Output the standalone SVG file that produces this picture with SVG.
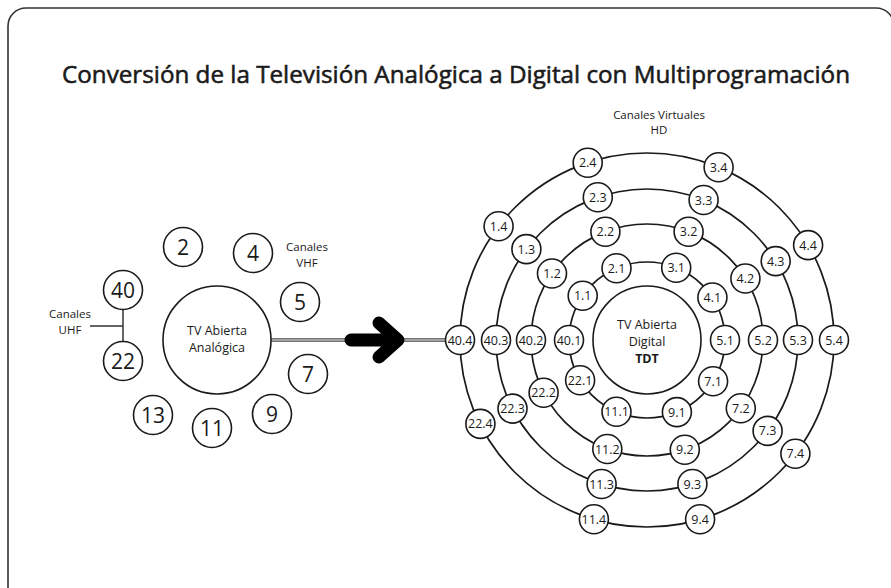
<svg xmlns="http://www.w3.org/2000/svg" width="891" height="588" viewBox="0 0 891 588">
<style>
.frame{fill:none;stroke:#333;stroke-width:1.6}
.ring{fill:none;stroke:#1a1a1a;stroke-width:1.7}
.ln{fill:none;stroke:#333;stroke-width:1.5}
.n circle{fill:#fff;stroke:#1a1a1a;stroke-width:1.6}
text{font-family:"Open Sans","Liberation Sans",sans-serif;fill:#1a1a1a;text-anchor:middle}
.s{font-size:12.5px}
.b{font-size:21px}
.lab{font-size:11.5px}
.big{font-size:12.5px}
.title{font-size:23.5px;stroke:#1a1a1a;stroke-width:0.55}
</style>
<rect class="frame" x="8" y="8" width="886" height="600" rx="18"/>
<text class="title" x="456" y="83" textLength="788" lengthAdjust="spacingAndGlyphs">Conversión de la Televisión Analógica a Digital con Multiprogramación</text>
<text class="lab" x="659" y="119">Canales Virtuales</text>
<text class="lab" x="659" y="134">HD</text>
<text class="lab" x="307" y="251">Canales</text>
<text class="lab" x="307" y="267">VHF</text>
<text class="lab" x="70" y="318">Canales</text>
<text class="lab" x="70" y="334">UHF</text>
<g id="connectors">
  <circle class="ring" cx="647" cy="340" r="78"/>
  <circle class="ring" cx="647" cy="340" r="116"/>
  <circle class="ring" cx="647" cy="340" r="151"/>
  <circle class="ring" cx="647" cy="340" r="187"/>
  <line x1="271" y1="340" x2="446" y2="340" stroke="#444" stroke-width="3.6"/>
  <line x1="271" y1="340" x2="446" y2="340" stroke="#fff" stroke-width="1.2"/>
  <path d="M351 340 H397 M379 323 L398 340 L379 357" fill="none" stroke="#000" stroke-width="13" stroke-linecap="round" stroke-linejoin="round"/>
  <line class="ln" x1="123" y1="309" x2="123" y2="342"/>
  <line class="ln" x1="90" y1="326" x2="123" y2="326"/>
</g>
<g id="tv-analogica" class="n"><circle cx="217" cy="340" r="54"/><text class="big" x="217" y="335">TV Abierta</text><text class="big" x="217" y="352">Analógica</text></g>
<g id="tdt" class="n"><circle cx="647" cy="340" r="54"/><text class="big" x="647" y="329">TV Abierta</text><text class="big" x="647" y="346">Digital</text><text class="big" x="647" y="363" font-weight="bold">TDT</text></g>
<g id="a2" class="n"><circle cx="183" cy="247" r="19.5"/><text class="b" x="183" y="254.5">2</text></g>
<g id="a4" class="n"><circle cx="253" cy="253" r="19.5"/><text class="b" x="253" y="260.5">4</text></g>
<g id="a5" class="n"><circle cx="300" cy="302" r="19.5"/><text class="b" x="300" y="309.5">5</text></g>
<g id="a7" class="n"><circle cx="308" cy="374" r="19.5"/><text class="b" x="308" y="381.5">7</text></g>
<g id="a9" class="n"><circle cx="272" cy="414" r="19.5"/><text class="b" x="272" y="421.5">9</text></g>
<g id="a11" class="n"><circle cx="212" cy="428" r="19.5"/><text class="b" x="212" y="435.5">11</text></g>
<g id="a13" class="n"><circle cx="153" cy="415" r="19.5"/><text class="b" x="153" y="422.5">13</text></g>
<g id="a40" class="n"><circle cx="123" cy="290" r="19.5"/><text class="b" x="123" y="297.5">40</text></g>
<g id="a22" class="n"><circle cx="123" cy="361" r="19.5"/><text class="b" x="123" y="368.5">22</text></g>
<g id="d1-1" class="n"><circle cx="582.7" cy="295.8" r="14.5"/><text class="s" x="582.7" y="300.3">1.1</text></g>
<g id="d2-1" class="n"><circle cx="616.5" cy="268.2" r="14.5"/><text class="s" x="616.5" y="272.7">2.1</text></g>
<g id="d3-1" class="n"><circle cx="676.2" cy="267.7" r="14.5"/><text class="s" x="676.2" y="272.2">3.1</text></g>
<g id="d4-1" class="n"><circle cx="712.4" cy="297.5" r="14.5"/><text class="s" x="712.4" y="302">4.1</text></g>
<g id="d5-1" class="n"><circle cx="725" cy="340" r="14.5"/><text class="s" x="725" y="344.5">5.1</text></g>
<g id="d7-1" class="n"><circle cx="713.1" cy="381.3" r="14.5"/><text class="s" x="713.1" y="385.8">7.1</text></g>
<g id="d9-1" class="n"><circle cx="676.9" cy="412.1" r="14.5"/><text class="s" x="676.9" y="416.6">9.1</text></g>
<g id="d11-1" class="n"><circle cx="616.5" cy="411.8" r="14.5"/><text class="s" x="616.5" y="416.3">11.1</text></g>
<g id="d22-1" class="n"><circle cx="580.1" cy="380.2" r="14.5"/><text class="s" x="580.1" y="384.7">22.1</text></g>
<g id="d40-1" class="n"><circle cx="569" cy="340" r="14.5"/><text class="s" x="569" y="344.5">40.1</text></g>
<g id="d1-2" class="n"><circle cx="552" cy="273.5" r="14.5"/><text class="s" x="552" y="278">1.2</text></g>
<g id="d2-2" class="n"><circle cx="605.4" cy="231.7" r="14.5"/><text class="s" x="605.4" y="236.2">2.2</text></g>
<g id="d3-2" class="n"><circle cx="688.6" cy="231.7" r="14.5"/><text class="s" x="688.6" y="236.2">3.2</text></g>
<g id="d4-2" class="n"><circle cx="745.4" cy="278.5" r="14.5"/><text class="s" x="745.4" y="283">4.2</text></g>
<g id="d5-2" class="n"><circle cx="763" cy="340" r="14.5"/><text class="s" x="763" y="344.5">5.2</text></g>
<g id="d7-2" class="n"><circle cx="740.8" cy="408.2" r="14.5"/><text class="s" x="740.8" y="412.7">7.2</text></g>
<g id="d9-2" class="n"><circle cx="684.8" cy="449.7" r="14.5"/><text class="s" x="684.8" y="454.2">9.2</text></g>
<g id="d11-2" class="n"><circle cx="607.3" cy="449" r="14.5"/><text class="s" x="607.3" y="453.5">11.2</text></g>
<g id="d22-2" class="n"><circle cx="543.6" cy="392.7" r="14.5"/><text class="s" x="543.6" y="397.2">22.2</text></g>
<g id="d40-2" class="n"><circle cx="531" cy="340" r="14.5"/><text class="s" x="531" y="344.5">40.2</text></g>
<g id="d1-3" class="n"><circle cx="526.4" cy="249.1" r="14.5"/><text class="s" x="526.4" y="253.6">1.3</text></g>
<g id="d2-3" class="n"><circle cx="597.8" cy="197.2" r="14.5"/><text class="s" x="597.8" y="201.7">2.3</text></g>
<g id="d3-3" class="n"><circle cx="703.6" cy="200" r="14.5"/><text class="s" x="703.6" y="204.5">3.3</text></g>
<g id="d4-3" class="n"><circle cx="775.7" cy="261.1" r="14.5"/><text class="s" x="775.7" y="265.6">4.3</text></g>
<g id="d5-3" class="n"><circle cx="798" cy="340" r="14.5"/><text class="s" x="798" y="344.5">5.3</text></g>
<g id="d7-3" class="n"><circle cx="767.6" cy="430.9" r="14.5"/><text class="s" x="767.6" y="435.4">7.3</text></g>
<g id="d9-3" class="n"><circle cx="692.4" cy="484" r="14.5"/><text class="s" x="692.4" y="488.5">9.3</text></g>
<g id="d11-3" class="n"><circle cx="601.6" cy="484" r="14.5"/><text class="s" x="601.6" y="488.5">11.3</text></g>
<g id="d22-3" class="n"><circle cx="512.5" cy="408.6" r="14.5"/><text class="s" x="512.5" y="413.1">22.3</text></g>
<g id="d40-3" class="n"><circle cx="496" cy="340" r="14.5"/><text class="s" x="496" y="344.5">40.3</text></g>
<g id="d1-4" class="n"><circle cx="498.6" cy="226.2" r="14.5"/><text class="s" x="498.6" y="230.7">1.4</text></g>
<g id="d2-4" class="n"><circle cx="587.7" cy="162.7" r="14.5"/><text class="s" x="587.7" y="167.2">2.4</text></g>
<g id="d3-4" class="n"><circle cx="718.6" cy="167.2" r="14.5"/><text class="s" x="718.6" y="171.7">3.4</text></g>
<g id="d4-4" class="n"><circle cx="808.1" cy="245.1" r="14.5"/><text class="s" x="808.1" y="249.6">4.4</text></g>
<g id="d5-4" class="n"><circle cx="834" cy="340" r="14.5"/><text class="s" x="834" y="344.5">5.4</text></g>
<g id="d7-4" class="n"><circle cx="795.4" cy="453.8" r="14.5"/><text class="s" x="795.4" y="458.3">7.4</text></g>
<g id="d9-4" class="n"><circle cx="700.1" cy="519.3" r="14.5"/><text class="s" x="700.1" y="523.8">9.4</text></g>
<g id="d11-4" class="n"><circle cx="593.9" cy="519.3" r="14.5"/><text class="s" x="593.9" y="523.8">11.4</text></g>
<g id="d22-4" class="n"><circle cx="480.4" cy="423.9" r="14.5"/><text class="s" x="480.4" y="428.4">22.4</text></g>
<g id="d40-4" class="n"><circle cx="460" cy="340" r="14.5"/><text class="s" x="460" y="344.5">40.4</text></g>
</svg>
